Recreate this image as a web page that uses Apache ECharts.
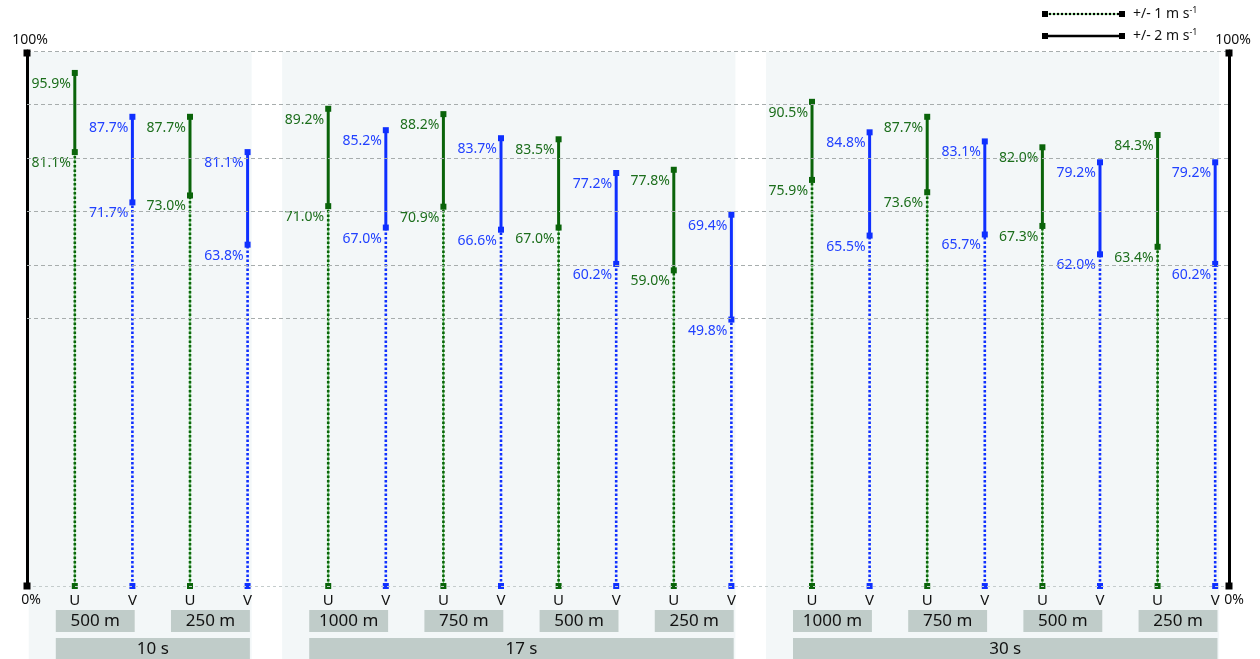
<!DOCTYPE html>
<html>
<head>
<meta charset="utf-8">
<script src="https://cdn.jsdelivr.net/npm/echarts@6/dist/echarts.min.js"></script>
<style>
  html, body { margin: 0; padding: 0; background: #fff; }
  #vis { width: 1260px; height: 659px; }
</style>
</head>
<body>
<div id="vis"></div>
<script>
// data
const groupLabels = ['10 s', '17 s', '30 s'];
const distanceLabels = ['500 m', '250 m', '1000 m', '750 m', '500 m', '250 m', '1000 m', '750 m', '500 m', '250 m'];
const distanceGroup = [0, 0, 1, 1, 1, 1, 2, 2, 2, 2];
const components = ['U', 'V'];
// % of samples within +/- 1 m/s and +/- 2 m/s, ordered U,V per distance
const within1 = [81.1, 71.7, 73.0, 63.8, 71.0, 67.0, 70.9, 66.6, 67.0, 60.2, 59.0, 49.8, 75.9, 65.5, 73.6, 65.7, 67.3, 62.0, 63.4, 60.2];
const within2 = [95.9, 87.7, 87.7, 81.1, 89.2, 85.2, 88.2, 83.7, 83.5, 77.2, 77.8, 69.4, 90.5, 84.8, 87.7, 83.1, 82.0, 79.2, 84.3, 79.2];
const gridValues = [50, 60, 70, 80, 90, 100];
const legendLabels = ['+/- 1 m s', '+/- 2 m s'];

const GAP = 0.4;
const FONT = 'Noto Sans';
const green = '#0a640a', greenText = '#1c6e1c', blue = '#0f30ff', blueText = '#2141ff';

// x position of each column (groups separated by a small gap)
const xPos = [];
distanceLabels.forEach((d, i) => {
  components.forEach((c, j) => xPos.push(2 * i + j + distanceGroup[i] * GAP));
});

const barData = xPos.map((x, k) => [x, within1[k], within2[k]]);

function groupCols(gi) {
  return xPos.filter((x, k) => distanceGroup[Math.floor(k / 2)] === gi);
}
const panelData = groupLabels.map((g, gi) => {
  const cols = groupCols(gi);
  return [cols[0] - 0.8, cols[cols.length - 1] + 0.07];
});
const distBoxData = distanceLabels.map((d, i) => [xPos[2 * i] - 0.33, xPos[2 * i + 1] + 0.04]);
const groupBoxData = groupLabels.map((g, gi) => {
  const cols = groupCols(gi);
  return [cols[0] - 0.33, cols[cols.length - 1] + 0.04];
});

const vis = document.getElementById('vis');
const chart = echarts.init(vis);

function axisY(position) {
  return {
    type: 'value',
    min: 0,
    max: 100,
    position: position,
    axisLine: {
      show: true,
      onZero: false,
      lineStyle: { color: '#000', width: 3 }
    },
    axisTick: { show: false },
    axisLabel: { show: false },
    splitLine: { show: false }
  };
}

function renderPanel(params, api) {
  const top = api.coord([api.value(0), 100]);
  const right = api.coord([api.value(1), 100]);
  return {
    type: 'rect',
    shape: { x: top[0], y: top[1] + 1, width: right[0] - top[0], height: api.getHeight() - top[1] },
    style: { fill: '#f3f7f8' }
  };
}

function makeBoxRenderer(labels, offset) {
  return function (params, api) {
    const a = api.coord([api.value(0), 0]);
    const b = api.coord([api.value(1), 0]);
    return {
      type: 'group',
      children: [
        {
          type: 'rect',
          shape: { x: a[0], y: a[1] + offset, width: b[0] - a[0], height: 22 },
          style: { fill: '#c0ccc9' }
        },
        {
          type: 'text',
          x: (a[0] + b[0]) / 2,
          y: a[1] + offset + 11,
          style: {
            text: labels[params.dataIndex],
            align: 'center',
            verticalAlign: 'middle',
            fill: '#111',
            fontSize: 17,
            fontFamily: FONT
          }
        }
      ]
    };
  };
}

function renderBar(params, api) {
  const i = params.dataIndex;
  const isU = i % 2 === 0;
  const c = isU ? green : blue;
  const tc = isU ? greenText : blueText;
  const x = api.value(0);
  const lo = api.value(1);
  const hi = api.value(2);
  const p0 = api.coord([x, 0]);
  const p1 = api.coord([x, lo]);
  const p2 = api.coord([x, hi]);
  const sq = p => ({
    type: 'rect',
    shape: { x: p[0] - 3, y: p[1] - 3, width: 6, height: 6 },
    style: { fill: c }
  });
  const label = (p, v) => ({
    type: 'text',
    x: p[0] - 4,
    y: p[1] + 11,
    style: {
      text: v.toFixed(1) + '%',
      align: 'right',
      verticalAlign: 'middle',
      fill: tc,
      fontSize: 14,
      fontFamily: FONT
    }
  });
  const children = [];
  if (isU) {
    children.push({
      type: 'line',
      shape: { x1: p0[0], y1: p0[1], x2: p1[0], y2: p1[1] },
      style: { stroke: '#6fd06f', lineWidth: 1.2 }
    });
  }
  children.push(
    {
      type: 'line',
      shape: { x1: p0[0], y1: p0[1], x2: p1[0], y2: p1[1] },
      style: { stroke: c, lineWidth: 2.6, lineDash: [2.5, 2] }
    },
    {
      type: 'line',
      shape: { x1: p1[0], y1: p1[1], x2: p2[0], y2: p2[1] },
      style: { stroke: c, lineWidth: 3 }
    },
    sq(p0), sq(p1), sq(p2),
    label(p2, hi),
    label(p1, lo),
    {
      type: 'text',
      x: p0[0],
      y: p0[1] + 15,
      style: {
        text: components[i % 2],
        align: 'center',
        verticalAlign: 'middle',
        fill: '#111',
        fontSize: 15,
        fontFamily: FONT
      }
    }
  );
  return { type: 'group', children: children };
}

const options = {
  animation: false,
  grid: { left: 27, right: 31, top: 51, bottom: 73 },
  xAxis: { type: 'value', min: -0.83, max: 20.04, show: false },
  yAxis: [axisY('left'), axisY('right')],
  series: [
    {
      type: 'custom',
      name: 'panels',
      silent: true,
      z: 0,
      renderItem: renderPanel,
      data: panelData
    },
    {
      type: 'line',
      name: 'grid',
      z: 1,
      data: [],
      markLine: {
        silent: true,
        symbol: 'none',
        label: { show: false },
        data: [{ yAxis: 0, lineStyle: { color: '#c4cccc', type: [3, 3], width: 1 } }].concat(
          gridValues.map(v => ({ yAxis: v, lineStyle: { color: '#a7adad', type: [4, 3], width: 1 } }))
        )
      }
    },
    {
      type: 'custom',
      name: 'distances',
      silent: true,
      z: 2,
      renderItem: makeBoxRenderer(distanceLabels, 24),
      data: distBoxData
    },
    {
      type: 'custom',
      name: 'groups',
      silent: true,
      z: 2,
      renderItem: makeBoxRenderer(groupLabels, 52),
      data: groupBoxData
    },
    {
      type: 'custom',
      name: 'ranges',
      z: 3,
      renderItem: renderBar,
      data: barData
    }
  ]
};

chart.setOption(options);

// axis end labels, end squares and legend
const yTop = chart.convertToPixel({ yAxisIndex: 0 }, 100);
const yBot = chart.convertToPixel({ yAxisIndex: 0 }, 0);
const leftX = 27, rightX = 1229;
const endLabel = (x, y, text) => ({
  type: 'text',
  x: x,
  y: y,
  style: { text: text, align: 'center', verticalAlign: 'middle', fill: '#111', fontSize: 14, fontFamily: FONT }
});
const endSquare = (x, y) => ({
  type: 'rect',
  z: 10,
  shape: { x: x - 3.5, y: y - 3.5, width: 7, height: 7 },
  style: { fill: '#000' }
});

function legendItem(y, dotted, text) {
  const items = [];
  if (dotted) {
    items.push({ type: 'line', shape: { x1: 1045, y1: y, x2: 1122, y2: y }, style: { stroke: '#5fd05f', lineWidth: 1.2 } });
    items.push({ type: 'line', shape: { x1: 1045, y1: y, x2: 1122, y2: y }, style: { stroke: '#000', lineWidth: 2.2, lineDash: [2, 2] } });
  } else {
    items.push({ type: 'line', shape: { x1: 1045, y1: y, x2: 1122, y2: y }, style: { stroke: '#000', lineWidth: 2.4 } });
  }
  items.push({ type: 'rect', shape: { x: 1042, y: y - 3, width: 6, height: 6 }, style: { fill: '#000' } });
  items.push({ type: 'rect', shape: { x: 1119, y: y - 3, width: 6, height: 6 }, style: { fill: '#000' } });
  items.push({
    type: 'text',
    x: 1133,
    y: y,
    style: {
      text: text + '{sup|-1}',
      verticalAlign: 'middle',
      fill: '#111',
      fontSize: 14,
      fontFamily: FONT,
      rich: { sup: { fontSize: 9, fontFamily: FONT, verticalAlign: 'top', padding: [0, 0, 7, 0], fill: '#111' } }
    }
  });
  return items;
}

chart.setOption({
  graphic: [
    endLabel(leftX + 3, yTop - 11, '100%'),
    endLabel(leftX + 4, yBot + 14, '0%'),
    endLabel(rightX + 4, yTop - 11, '100%'),
    endLabel(rightX + 5, yBot + 14, '0%'),
    endSquare(leftX, yTop + 2), endSquare(leftX, yBot),
    endSquare(rightX, yTop + 2), endSquare(rightX, yBot)
  ].concat(legendItem(14, true, legendLabels[0]), legendItem(36, false, legendLabels[1]))
});
</script>
</body>
</html>
